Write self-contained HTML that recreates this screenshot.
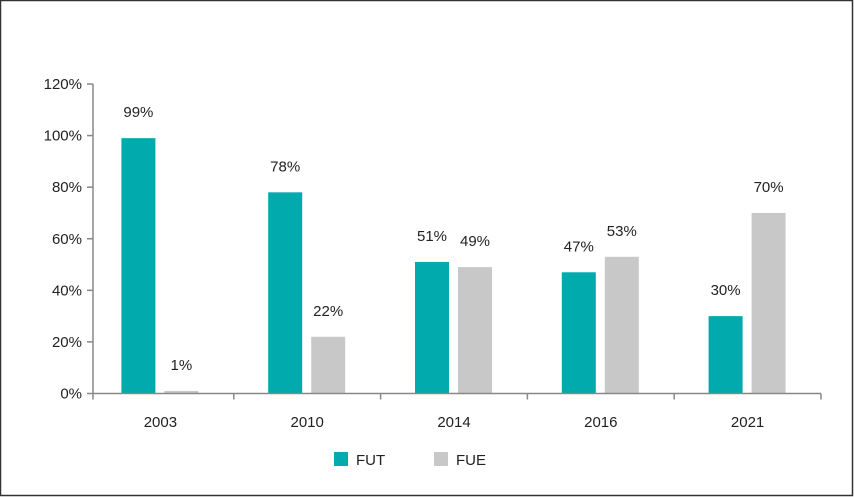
<!DOCTYPE html>
<html><head><meta charset="utf-8"><style>
html,body{margin:0;padding:0;background:#fff;}
svg{display:block;font-family:"Liberation Sans",sans-serif;}
</style></head><body>
<svg id="chart" width="854" height="497" viewBox="0 0 854 497" xmlns="http://www.w3.org/2000/svg">
<rect x="0.5" y="0.5" width="852" height="495" fill="#fff" stroke="#333" stroke-width="1.5"/>
<g id="plot"></g>
<g>
<rect x="334" y="452" width="14" height="14" fill="#00aaad"/>
<text x="356" y="465" font-size="15" fill="#222">FUT</text>
<rect x="434" y="452" width="14" height="14" fill="#c8c8c8"/>
<text x="456" y="465" font-size="15" fill="#222">FUE</text>
</g>
</svg>
<script>
const categories = ["2003","2010","2014","2016","2021"];
const futValues = [99,78,51,47,30];
const fueValues = [1,22,49,53,70];
const yTicks = [0,20,40,60,80,100,120];
const NS="http://www.w3.org/2000/svg";
const g=document.getElementById('plot');
const x0=87,x1=821,y0=393.5,yTop=84,yMax=120;
const bw=(x1-x0)/categories.length;
function yScale(v){return y0-(v/yMax)*(y0-yTop);}
function xCenter(i){return x0+bw*(i+0.5);}
function mk(tag,attrs){const e=document.createElementNS(NS,tag);for(const k in attrs)e.setAttribute(k,attrs[k]);g.appendChild(e);return e;}
yTicks.forEach(t=>{
  const y=yScale(t);
  const l=mk('line',{x1:87,x2:93,y1:y,y2:y,stroke:'#888','stroke-width':1.5});
  
  
  const tx=mk('text',{x:82,y:y+5,'text-anchor':'end','font-size':15,fill:'#222'});
  tx.textContent=t+'%';
  
  
});
const ya=mk('line',{x1:93,x2:93,y1:yTop,y2:y0,stroke:'#888','stroke-width':1.5});


categories.forEach((c,i)=>{
  const cx=xCenter(i);
  const series=[[futValues[i],'#00aaad','fut'],[fueValues[i],'#c8c8c8','fue']];
  series.forEach((s,j)=>{
    const bx=j===0?cx-39:cx+4;
    const y=yScale(s[0]);
    const r=mk('rect',{x:bx,y:y,width:34,height:y0-y,fill:s[1]});
    
    
    const t=mk('text',{x:bx+17,y:yScale(s[0])-21,'text-anchor':'middle','font-size':15,fill:'#222'});
    t.textContent=s[0]+'%';
    
    
  });
  const xl=mk('text',{x:cx,y:427,'text-anchor':'middle','font-size':15,fill:'#222'});
  xl.textContent=c;
  
  
});
for(let i=0;i<=categories.length;i++){
  const x=i===0?93:x0+bw*i;
  const t=mk('line',{x1:x,x2:x,y1:y0,y2:y0+6,stroke:'#888','stroke-width':1.5});
  
  
}
const xa=mk('line',{x1:93,x2:x1,y1:y0,y2:y0,stroke:'#888','stroke-width':1.5});


</script>
</body></html>
